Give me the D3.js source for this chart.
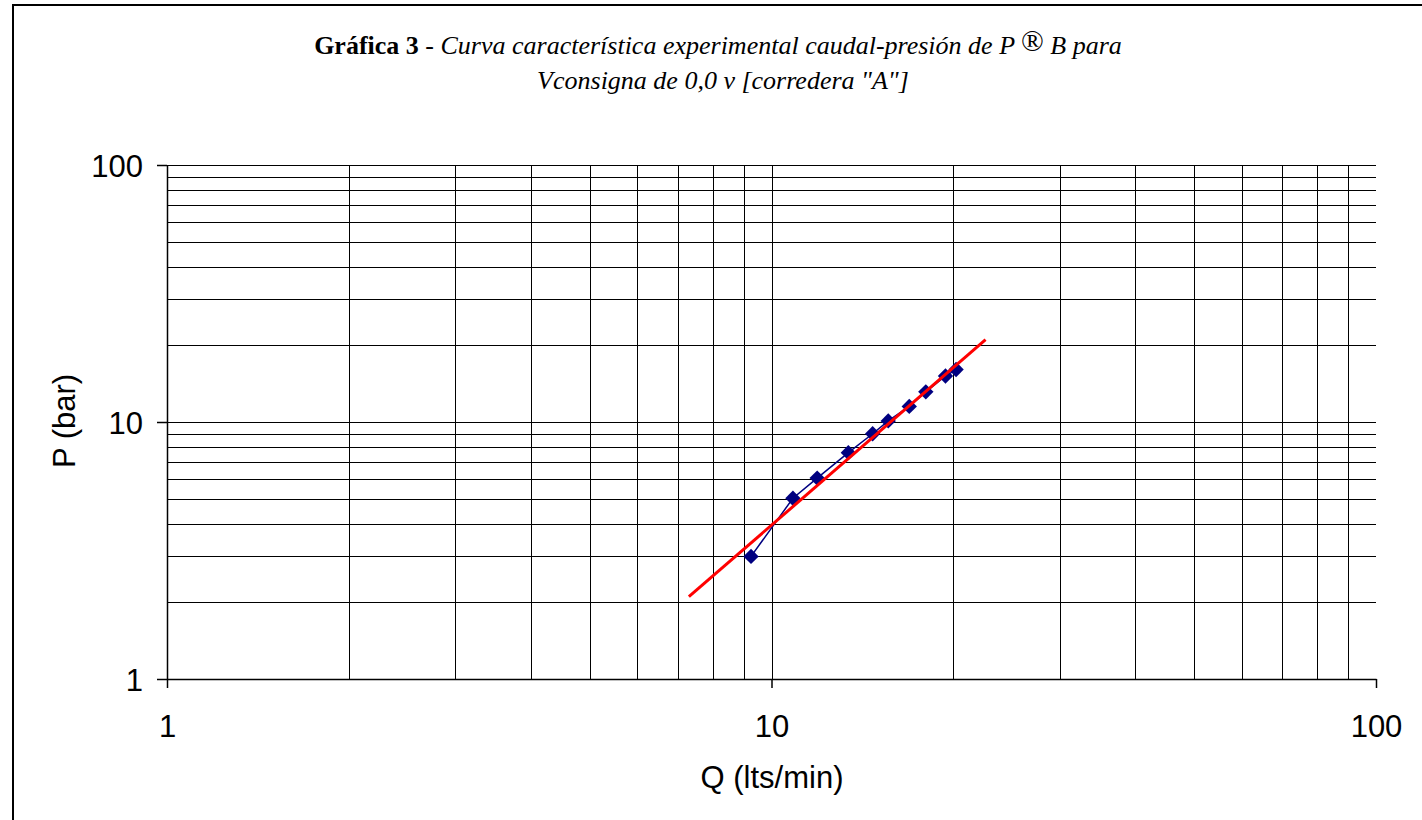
<!DOCTYPE html>
<html>
<head>
<meta charset="utf-8">
<script src="https://cdn.jsdelivr.net/npm/d3@7"></script>
<style>
  html, body { margin: 0; padding: 0; background: #fff; }
  svg { display: block; }
</style>
</head>
<body>
<svg id="chart" width="1422" height="820"></svg>
<script>
// ---- data ----
const caudalQ = [9.25, 10.85, 11.9, 13.4, 14.7, 15.6, 16.9, 18.0, 19.4, 20.2];
const presionP = [3.0, 5.05, 6.05, 7.6, 9.0, 10.1, 11.5, 13.1, 15.1, 16.0];
const trendQ = [7.3, 22.6];
const trendP = [2.09, 20.9];
const xTickValues = [1, 10, 100];
const yTickValues = [1, 10, 100];
const gridValues = [1, 2, 3, 4, 5, 6, 7, 8, 9, 10, 20, 30, 40, 50, 60, 70, 80, 90, 100];
const titleBold = "Gráfica 3";
const titleRest = " - ";
const titleItalic1a = "Curva característica experimental caudal-presión de P ";
const titleSymbol = "®";
const titleItalic1b = " B para";
const titleItalic2 = "Vconsigna de 0,0 v [corredera \"A\"]";
const xTitle = "Q (lts/min)";
const yTitle = "P (bar)";

// ---- layout ----
const svg = d3.select("#chart");
const L = 167, R = 1376, T = 165, B = 679;

const x = d3.scaleLog().domain([1, 100]).range([L, R]);
const y = d3.scaleLog().domain([1, 100]).range([B, T]);

// outer frame (extends beyond the view at right/bottom)
svg.append("rect")
  .attr("x", 13).attr("y", 5).attr("width", 1440).attr("height", 900)
  .attr("fill", "none").attr("stroke", "#000").attr("stroke-width", 2);

// title
const serif = "'Liberation Serif', 'Times New Roman', serif";
const title = svg.append("text")
  .attr("x", 718).attr("y", 54)
  .attr("text-anchor", "middle")
  .attr("font-family", serif)
  .attr("font-size", 26).attr("fill", "#000");
title.append("tspan").attr("font-weight", "bold").text(titleBold);
title.append("tspan").text(titleRest);
title.append("tspan").attr("font-style", "italic").text(titleItalic1a);
title.append("tspan").attr("font-size", 30).attr("dy", -3).text(titleSymbol);
title.append("tspan").attr("font-style", "italic").attr("dy", 3).text(titleItalic1b);
svg.append("text")
  .attr("x", 723).attr("y", 89)
  .attr("text-anchor", "middle")
  .attr("font-family", serif)
  .attr("font-size", 26).attr("font-style", "italic").attr("fill", "#000")
  .text(titleItalic2);

// grid
const grid = svg.append("g").attr("stroke", "#000").attr("stroke-width", 1)
  .attr("shape-rendering", "crispEdges");
grid.selectAll("line.h").data(gridValues).enter().append("line")
  .attr("class", "h")
  .attr("x1", L).attr("x2", R)
  .attr("y1", d => Math.round(y(d)) + 0.5).attr("y2", d => Math.round(y(d)) + 0.5);
grid.selectAll("line.v").data(gridValues.filter(d => d < 100)).enter().append("line")
  .attr("class", "v")
  .attr("y1", T).attr("y2", B)
  .attr("x1", d => Math.round(x(d)) + 0.5).attr("x2", d => Math.round(x(d)) + 0.5);

// axes
const fontAx = "'Liberation Sans', Arial, sans-serif";
const xAxis = d3.axisBottom(x).tickValues(xTickValues).tickFormat(d3.format("d"))
  .tickSizeInner(9).tickSizeOuter(0).tickPadding(27);
const gx = svg.append("g").attr("transform", `translate(0,${B})`).call(xAxis);
const yAxis = d3.axisLeft(y).tickValues(yTickValues).tickFormat(d3.format("d"))
  .tickSizeInner(10).tickSizeOuter(0).tickPadding(14);
const gy = svg.append("g").attr("transform", `translate(${L},0)`).call(yAxis);
[gx, gy].forEach(g => {
  g.select(".domain").attr("stroke", "#000").attr("stroke-width", 1.5);
  g.selectAll(".tick line").attr("stroke", "#000").attr("stroke-width", 1.5);
  g.selectAll(".tick text").attr("font-family", fontAx).attr("font-size", 31).attr("fill", "#000");
});
gy.selectAll(".tick text").attr("dy", "0.36em");

// axis titles
svg.append("text")
  .attr("x", 772).attr("y", 788)
  .attr("text-anchor", "middle")
  .attr("font-family", fontAx).attr("font-size", 31).attr("fill", "#000")
  .text(xTitle);
svg.append("text")
  .attr("transform", "translate(75,421) rotate(-90)")
  .attr("text-anchor", "middle")
  .attr("font-family", fontAx).attr("font-size", 31).attr("fill", "#000")
  .text(yTitle);

// data line
const pts = caudalQ.map((q, i) => [q, presionP[i]]);
const line = d3.line().x(d => x(d[0])).y(d => y(d[1]));
svg.append("path").datum(pts)
  .attr("d", line)
  .attr("fill", "none").attr("stroke", "#000080").attr("stroke-width", 1.5);
svg.selectAll("path.mk").data(pts).enter().append("path")
  .attr("class", "mk")
  .attr("d", d3.symbol().type(d3.symbolDiamond2).size(150))
  .attr("transform", d => `translate(${x(d[0])},${y(d[1])})`)
  .attr("fill", "#000080");

// trend line
const trend = trendQ.map((q, i) => [q, trendP[i]]);
svg.append("path").datum(trend)
  .attr("d", line)
  .attr("fill", "none").attr("stroke", "#FF0000").attr("stroke-width", 3);
</script>
</body>
</html>
